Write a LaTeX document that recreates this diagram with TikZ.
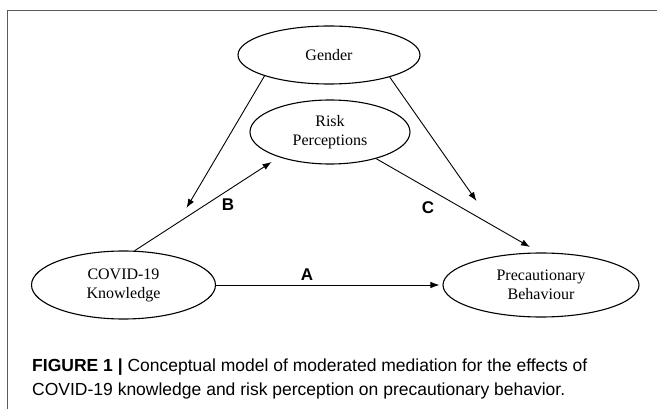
\documentclass[tikz,border=0pt]{standalone}
\usepackage{fontspec}
\setmainfont{Liberation Serif}
\setsansfont{Liberation Sans}
\usetikzlibrary{shapes.geometric,arrows.meta}
\begin{document}
\begin{tikzpicture}[x=1pt,y=-1pt,
  var/.style={ellipse,draw,line width=1.1pt,inner sep=0pt,align=center,font=\fontsize{16}{19}\selectfont},
  conn/.style={line width=0.9pt,-{Latex[length=9pt,width=6.5pt]}},
  lbl/.style={font=\sffamily\bfseries\fontsize{17}{20}\selectfont},
  frameline/.style={draw=black!65,line width=1.4pt}]
\useasboundingbox (0,0) rectangle (657,409);
\draw[frameline] (7.5,409) -- (7.5,10.5) -- (657,10.5);
\node[var,minimum width=182pt,minimum height=58pt] (gen) at (329,55) {Gender};
\node[var,minimum width=160pt,minimum height=64pt] (risk) at (330,132) {Risk\\Perceptions};
\node[var,minimum width=184pt,minimum height=68pt] (cov) at (123.5,285) {COVID-19\\Knowledge};
\node[var,minimum width=196pt,minimum height=64pt] (prec) at (541,285) {Precautionary\\Behaviour};
\coordinate (lend) at (186.5,208);
\coordinate (rend) at (476.5,201);
\coordinate (rpend) at (271.6,162);
\coordinate (pend) at (530,247);
\draw[conn] (gen.198) -- (lend);
\draw[conn] (gen.340) -- (rend);
\draw[conn] (cov.72) -- (rpend);
\draw[conn] (risk.330) -- (pend);
\draw[conn,shorten >=3pt] (cov.east) -- (prec.west);
\node[lbl] (la) at (307,275) {A};
\node[lbl] (lb) at (228,205) {B};
\node[lbl] (lc) at (428,208) {C};
\node[anchor=west,align=left,inner sep=0pt,font=\sffamily\fontsize{17.5}{23.5}\selectfont] (cap) at (32,379)
  {\textbf{FIGURE 1 |} Conceptual model of moderated mediation for the effects of\\COVID-19 knowledge and risk perception on precautionary behavior.};
\end{tikzpicture}
\end{document}
